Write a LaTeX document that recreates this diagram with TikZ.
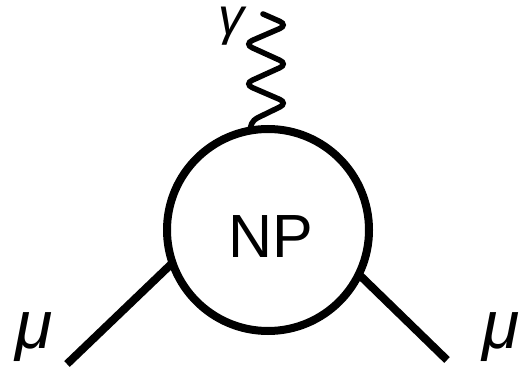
\documentclass[tikz,border=0pt]{standalone}
\usepackage{fontspec}
\setmainfont{Liberation Sans}
\begin{document}
\begin{tikzpicture}[x=1pt,y=-1pt,
  vertex/.style={circle,draw,line width=8pt,minimum size=202pt,inner sep=0pt,outer sep=0pt},
  fermion/.style={line width=8pt},
  photon/.style={line width=5.5pt,rounded corners=9pt,line cap=round},
  lbl/.style={inner sep=0pt,anchor=base}]
\useasboundingbox (0,0) rectangle (529,371);
\node[vertex] (np) at (268,230) {};
\node[lbl,font=\fontsize{61}{61}\selectfont] (nptext) at (271,257) {NP};
\coordinate (muL) at (67,364);
\coordinate (muR) at (447,360);
\draw[fermion] (np.199) -- (muL);
\draw[fermion] (np.334) -- (muR);
\node[lbl,font=\fontsize{68}{68}\selectfont\itshape] (muLtext) at (34,348) {μ};
\node[lbl,font=\fontsize{68}{68}\selectfont\itshape] (muRtext) at (501,348) {μ};
\coordinate (gtop) at (263,14);
\coordinate (gbot) at (np.100);
\draw[photon] (gbot) -- (249,122) -- (288,103) -- (244,84) -- (288,64) -- (244,44) -- (288,25) -- (gtop);
\node[lbl,text height=0.55em,text depth=0.22em,font=\fontsize{52}{52}\selectfont\itshape] (gamma) at (231,35) {γ};
\end{tikzpicture}
\end{document}
